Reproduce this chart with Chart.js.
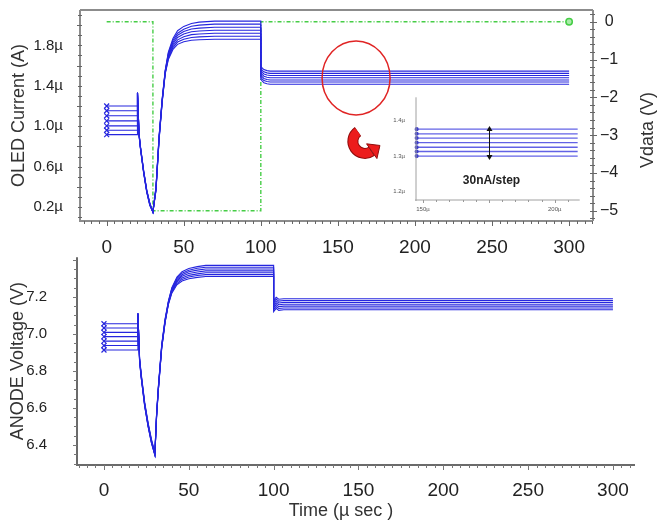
<!DOCTYPE html>
<html><head><meta charset="utf-8">
<script src="https://cdn.jsdelivr.net/npm/chart.js@4.4.1/dist/chart.umd.min.js"></script>
<style>
html,body{margin:0;padding:0;background:#fff;}
#wrap{position:relative;width:657px;height:521px;overflow:hidden;background:#fff;}
canvas{position:absolute;}
</style></head><body>
<div id="wrap">
<canvas id="topChart" width="657" height="262" style="left:0;top:0"></canvas>
<canvas id="insetChart" width="200" height="130" style="left:385px;top:92px"></canvas>
<canvas id="botChart" width="657" height="269" style="left:0;top:252px"></canvas>
</div>
<script>
// ---------------- DATA ----------------
// OLED current (µA) vs time (µs), 7 data steps
const timeCur = [0,20,20,21,22,24,26,28,30,32,34,36,38,40,43,46,50,55,60,70,100,100,101,102,104,106,300];
const cur1 = [1.200,1.200,1.33,0.93,0.79,0.56,0.37,0.24,0.15,0.40,0.90,1.27,1.556,1.732,1.868,1.945,1.988,2.017,2.030,2.040,2.040,1.595,1.575,1.560,1.550,1.545,1.545];
const cur2 = [1.153,1.153,1.33,0.925,0.785,0.555,0.365,0.235,0.15,0.395,0.895,1.265,1.550,1.720,1.850,1.920,1.960,1.990,2.000,2.010,2.010,1.573,1.553,1.538,1.528,1.523,1.523];
const cur3 = [1.103,1.103,1.33,0.92,0.78,0.55,0.36,0.23,0.15,0.39,0.89,1.26,1.544,1.708,1.832,1.900,1.937,1.962,1.971,1.980,1.980,1.552,1.532,1.517,1.507,1.502,1.502];
const cur4 = [1.053,1.053,1.33,0.92,0.78,0.55,0.36,0.23,0.15,0.38,0.88,1.25,1.538,1.696,1.814,1.878,1.912,1.934,1.942,1.950,1.950,1.530,1.510,1.495,1.485,1.480,1.480];
const cur5 = [1.003,1.003,1.33,0.915,0.775,0.545,0.355,0.225,0.15,0.375,0.875,1.245,1.532,1.684,1.796,1.855,1.886,1.906,1.913,1.920,1.920,1.508,1.488,1.473,1.463,1.458,1.458];
const cur6 = [0.960,0.960,1.33,0.91,0.77,0.54,0.35,0.22,0.15,0.37,0.87,1.24,1.526,1.672,1.778,1.833,1.861,1.878,1.884,1.890,1.890,1.487,1.467,1.452,1.442,1.437,1.437];
const cur7 = [0.917,0.917,1.33,0.905,0.765,0.535,0.345,0.215,0.15,0.365,0.865,1.235,1.520,1.660,1.760,1.810,1.835,1.850,1.855,1.860,1.860,1.465,1.445,1.430,1.420,1.415,1.415];
const currentSeries = [cur1,cur2,cur3,cur4,cur5,cur6,cur7];

// Vdata (V)
const timeVdata = [0,30,30,100,100,300];
const vdata = [0,0,-5,-5,0,0];

// ANODE voltage (V)
const timeVolt = [0,20,20,21,22,24,26,28,30,31,32,34,36,38,40,43,46,50,55,60,100,100,101.5,103,106,300];
const volt1 = [7.055,7.055,7.11,6.87,6.78,6.63,6.52,6.43,6.36,6.57,6.71,6.94,7.08,7.178,7.250,7.307,7.336,7.353,7.363,7.370,7.370,7.180,7.198,7.187,7.190,7.190];
const volt2 = [7.032,7.032,7.11,6.865,6.775,6.625,6.515,6.425,6.355,6.565,6.705,6.935,7.075,7.175,7.245,7.300,7.328,7.344,7.354,7.360,7.360,7.170,7.188,7.177,7.180,7.180];
const volt3 = [7.008,7.008,7.11,6.86,6.77,6.62,6.51,6.42,6.35,6.56,6.70,6.93,7.07,7.172,7.240,7.293,7.319,7.335,7.344,7.350,7.350,7.160,7.178,7.167,7.170,7.170];
const volt4 = [6.985,6.985,7.11,6.86,6.77,6.62,6.51,6.42,6.35,6.56,6.70,6.93,7.07,7.169,7.235,7.286,7.311,7.326,7.334,7.340,7.340,7.150,7.168,7.157,7.160,7.160];
const volt5 = [6.961,6.961,7.11,6.855,6.765,6.615,6.505,6.415,6.35,6.555,6.695,6.925,7.065,7.166,7.230,7.279,7.302,7.316,7.324,7.330,7.330,7.140,7.158,7.147,7.150,7.150];
const volt6 = [6.937,6.937,7.11,6.85,6.76,6.61,6.50,6.41,6.345,6.55,6.69,6.92,7.06,7.163,7.225,7.272,7.294,7.307,7.315,7.320,7.320,7.130,7.148,7.137,7.140,7.140];
const volt7 = [6.913,6.913,7.11,6.85,6.76,6.61,6.50,6.41,6.345,6.55,6.69,6.92,7.06,7.160,7.220,7.265,7.285,7.298,7.305,7.310,7.310,7.120,7.138,7.127,7.130,7.130];
const voltageSeries = [volt1,volt2,volt3,volt4,volt5,volt6,volt7];

// Inset (zoom of steady current, 150µs–200µs)
const insetTime = [147.6, 208.7];
const insetLevels = [1.376,1.363,1.351,1.338,1.325,1.313,1.300];

// Ticks
const xTicks = [0,50,100,150,200,250,300];
const xTickLabels = ['0','50','100','150','200','250','300'];
const curTicks = [0.2,0.6,1.0,1.4,1.8];
const curTickLabels = ['0.2\u00b5','0.6\u00b5','1.0\u00b5','1.4\u00b5','1.8\u00b5'];
const vdataTicks = [0,-1,-2,-3,-4,-5];
const vdataTickLabels = ['0','\u22121','\u22122','\u22123','\u22124','\u22125'];
const voltTicks = [6.4,6.6,6.8,7.0,7.2];
const voltTickLabels = ['6.4','6.6','6.8','7.0','7.2'];
const insetYTicks = [1.2,1.3,1.4];
const insetYTickLabels = ['1.2\u00b5','1.3\u00b5','1.4\u00b5'];
const insetXTicks = [150,200];
const insetXTickLabels = ['150\u00b5','200\u00b5'];

// ---------------- HELPERS ----------------
const FONT = "'Liberation Sans', Arial, Helvetica, sans-serif";
const BLUE = 'rgb(38,38,222)';
const GREEN = 'rgb(70,205,70)';
const NOGRID = {display: false, drawTicks: false};
function fixBox(size) {
  return (s) => {
    if (s.isHorizontal()) s.height = size; else s.width = size;
    s.paddingTop = 0; s.paddingBottom = 0; s.paddingLeft = 0; s.paddingRight = 0;
  };
}
function setTicks(values) { return (s) => { s.ticks = values.map(v => ({value: v})); }; }
function labelsFrom(labels) { return (v, i) => labels[i]; }
function pts(xs, ys) { return xs.map((x, i) => ({x: x, y: ys[i]})); }

const minorTicksPlugin = {
  id: 'minorTicks',
  afterDraw(chart, args, opts) {
    const ctx = chart.ctx, ca = chart.chartArea;
    ctx.save();
    ctx.strokeStyle = opts.color || '#777';
    ctx.lineWidth = 1;
    (opts.axes || []).forEach(a => {
      const s = chart.scales[a.id];
      const n = Math.round((a.to - a.from) / a.step);
      for (let i = 0; i <= n; i++) {
        const v = a.from + i * a.step;
        const isMajor = a.major && Math.abs(v / a.major - Math.round(v / a.major)) < 1e-6;
        const len = isMajor ? a.majorLen : a.len;
        ctx.beginPath();
        if (s.isHorizontal()) {
          const x = Math.round(s.getPixelForValue(v)) + 0.5;
          if (x < ca.left - 0.5 || x > ca.right + 0.5) continue;
          ctx.moveTo(x, ca.bottom - (a.inner || 0));
          ctx.lineTo(x, ca.bottom + len);
        } else {
          const y = Math.round(s.getPixelForValue(v)) + 0.5;
          if (y < ca.top - 0.5 || y > ca.bottom + 0.5) continue;
          const left = s.position === 'left';
          const x0 = left ? ca.left : ca.right;
          const sg = left ? -1 : 1;
          ctx.moveTo(x0 - sg * (a.inner || 0), y);
          ctx.lineTo(x0 + sg * len, y);
        }
        ctx.stroke();
      }
    });
    ctx.restore();
  }
};

const framePlugin = {
  id: 'frame',
  afterDraw(chart, args, opts) {
    const ctx = chart.ctx, ca = chart.chartArea;
    ctx.save();
    ctx.strokeStyle = opts.color || '#777';
    ctx.lineWidth = opts.width || 1;
    ctx.beginPath();
    (opts.sides || []).forEach(side => {
      if (side === 'top') { ctx.moveTo(ca.left, ca.top); ctx.lineTo(ca.right, ca.top); }
      if (side === 'bottom') { ctx.moveTo(ca.left - 1, ca.bottom); ctx.lineTo(ca.right, ca.bottom); }
      if (side === 'left') { ctx.moveTo(ca.left, ca.top); ctx.lineTo(ca.left, ca.bottom + 1); }
      if (side === 'right') { ctx.moveTo(ca.right, ca.top); ctx.lineTo(ca.right, ca.bottom); }
    });
    ctx.stroke();
    ctx.restore();
  }
};

const textPlugin = {
  id: 'freeText',
  afterDraw(chart, args, opts) {
    const ctx = chart.ctx;
    (opts.items || []).forEach(t => {
      ctx.save();
      ctx.fillStyle = t.color || '#333';
      ctx.font = t.font;
      ctx.textAlign = 'center';
      ctx.textBaseline = 'middle';
      ctx.translate(t.x, t.y);
      if (t.rotate) ctx.rotate(t.rotate);
      ctx.fillText(t.text, 0, 0);
      ctx.restore();
    });
  }
};

const topDecorPlugin = {
  id: 'topDecor',
  afterDatasetsDraw(chart, args, opts) {
    const ctx = chart.ctx, xs = chart.scales.x, ys = chart.scales.y;
    ctx.save();
    // red circle highlighting the steady-state region
    const cx = xs.getPixelForValue(opts.circle.x), cy = ys.getPixelForValue(opts.circle.y);
    ctx.strokeStyle = '#e02424';
    ctx.lineWidth = 1.5;
    ctx.beginPath();
    ctx.ellipse(cx, cy, opts.circle.rx, opts.circle.ry, 0, 0, Math.PI * 2);
    ctx.stroke();
    // curved red arrow
    const ax = xs.getPixelForValue(opts.arrow.x), ay = ys.getPixelForValue(opts.arrow.y);
    const r = 12, a0 = 235 * Math.PI / 180, a1 = 55 * Math.PI / 180;
    ctx.lineCap = 'butt';
    ctx.strokeStyle = '#8e0c0c'; ctx.lineWidth = 11;
    ctx.beginPath(); ctx.arc(ax, ay, r, a0, a1, true); ctx.stroke();
    ctx.strokeStyle = '#ec1c1c'; ctx.lineWidth = 9;
    ctx.beginPath(); ctx.arc(ax, ay, r, a0 - 0.02, a1 + 0.05, true); ctx.stroke();
    const ex = ax + r * Math.cos(a1), ey = ay + r * Math.sin(a1);
    const dx = Math.sin(a1), dy = -Math.cos(a1);
    const px = -dy, py = dx;
    ctx.beginPath();
    ctx.moveTo(ex + px * 9, ey + py * 9);
    ctx.lineTo(ex + dx * 10, ey + dy * 10);
    ctx.lineTo(ex - px * 9, ey - py * 9);
    ctx.closePath();
    ctx.fillStyle = '#ec1c1c';
    ctx.fill();
    ctx.strokeStyle = '#8e0c0c'; ctx.lineWidth = 1;
    ctx.stroke();
    ctx.restore();
  }
};

const insetDecorPlugin = {
  id: 'insetDecor',
  afterDatasetsDraw(chart, args, opts) {
    const ctx = chart.ctx, xs = chart.scales.x, ys = chart.scales.y;
    const x = Math.round(xs.getPixelForValue(opts.arrow.x)) + 0.5;
    const y1 = ys.getPixelForValue(opts.arrow.y1), y2 = ys.getPixelForValue(opts.arrow.y2);
    ctx.save();
    ctx.strokeStyle = '#111'; ctx.fillStyle = '#111'; ctx.lineWidth = 1;
    ctx.beginPath(); ctx.moveTo(x, y1 + 3); ctx.lineTo(x, y2 - 3); ctx.stroke();
    ctx.beginPath(); ctx.moveTo(x, y1); ctx.lineTo(x - 3, y1 + 5); ctx.lineTo(x + 3, y1 + 5); ctx.closePath(); ctx.fill();
    ctx.beginPath(); ctx.moveTo(x, y2); ctx.lineTo(x - 3, y2 - 5); ctx.lineTo(x + 3, y2 - 5); ctx.closePath(); ctx.fill();
    ctx.font = 'bold 12px ' + FONT;
    ctx.textAlign = 'center'; ctx.textBaseline = 'middle';
    ctx.fillStyle = '#222';
    ctx.fillText(opts.label.text, xs.getPixelForValue(opts.label.x), ys.getPixelForValue(opts.label.y));
    ctx.restore();
  }
};

function blueLine(xs, ys, yAxisID) {
  return {
    data: pts(xs, ys),
    yAxisID: yAxisID,
    borderColor: BLUE,
    borderWidth: 1.1,
    tension: 0,
    pointStyle: 'crossRot',
    pointRadius: (c) => c.dataIndex === 0 ? 3.5 : 0,
    pointBorderColor: BLUE,
    pointBorderWidth: 1.2,
    pointBackgroundColor: BLUE,
    fill: false
  };
}

Chart.defaults.font.family = FONT;
Chart.defaults.color = '#222';

// ---------------- TOP CHART ----------------
const topDatasets = currentSeries.map(s => blueLine(timeCur, s, 'y'));
topDatasets.push({
  data: pts(timeVdata, vdata),
  yAxisID: 'y2',
  borderColor: GREEN,
  borderWidth: 1.4,
  borderDash: [4, 2, 1, 2],
  tension: 0,
  pointStyle: 'circle',
  pointRadius: (c) => c.dataIndex === vdata.length - 1 ? 3.2 : 0,
  pointBorderColor: GREEN,
  pointBackgroundColor: 'rgb(170,235,170)',
  pointBorderWidth: 1.5,
  fill: false
});

new Chart(document.getElementById('topChart'), {
  type: 'line',
  data: {datasets: topDatasets},
  options: {
    responsive: false, animation: false, devicePixelRatio: 1, events: [],
    layout: {padding: {top: 10, left: 0, right: 0, bottom: 0}},
    plugins: {
      legend: {display: false}, tooltip: {enabled: false},
      frame: {sides: ['top', 'bottom', 'left', 'right'], color: '#8c8c8c', width: 2},
      minorTicks: {color: '#666', axes: [
        {id: 'x', from: -15, to: 315, step: 5, major: 50, len: 3, majorLen: 5, inner: 0},
        {id: 'y', from: 0.1, to: 2.1, step: 0.1, major: 0.4, len: 2, majorLen: 3, inner: 2},
        {id: 'y2', from: -5.2, to: 0.2, step: 0.2, major: 1, len: 2, majorLen: 4, inner: 3}
      ]},
      freeText: {items: [
        {text: 'Vdata (V)', x: 648, y: 130, rotate: -Math.PI / 2, font: '18px ' + FONT, color: '#333'}
      ]},
      topDecor: {circle: {x: 161.8, y: 1.478, rx: 34, ry: 37}, arrow: {x: 167.5, y: 0.85}}
    },
    scales: {
      x: {
        type: 'linear', position: 'bottom', min: -17.3, max: 315.5,
        afterBuildTicks: setTicks(xTicks), afterFit: fixBox(41),
        grid: NOGRID, border: {display: false},
        ticks: {autoSkip: false, maxRotation: 0, padding: 15, callback: labelsFrom(xTickLabels), font: {size: 19}, color: '#222'}
      },
      y: {
        type: 'linear', position: 'left', min: 0.062, max: 2.15,
        afterBuildTicks: setTicks(curTicks), afterFit: fixBox(80),
        grid: NOGRID, border: {display: false},
        ticks: {autoSkip: false, padding: 17, callback: labelsFrom(curTickLabels), font: {size: 15}, color: '#222'},
        title: {display: true, text: 'OLED Current (A)', font: {size: 18}, color: '#333', padding: {top: 8, bottom: 0}}
      },
      y2: {
        type: 'linear', position: 'right', min: -5.27, max: 0.31,
        afterBuildTicks: setTicks(vdataTicks), afterFit: fixBox(64),
        grid: NOGRID, border: {display: false},
        ticks: {autoSkip: false, padding: 7, crossAlign: 'center', callback: labelsFrom(vdataTickLabels), font: {size: 16}, color: '#222'}
      }
    }
  },
  plugins: [framePlugin, minorTicksPlugin, textPlugin, topDecorPlugin]
});

// ---------------- INSET ----------------
const insetDatasets = insetLevels.map(v => ({
  data: pts(insetTime, [v, v]),
  borderColor: 'rgba(70,70,225,0.85)',
  borderWidth: 1.3,
  tension: 0,
  pointRadius: (c) => c.dataIndex === 0 ? 1.4 : 0,
  pointBackgroundColor: 'rgb(60,60,200)',
  pointBorderColor: 'rgb(60,60,200)',
  clip: false,
  fill: false
}));
new Chart(document.getElementById('insetChart'), {
  type: 'line',
  data: {datasets: insetDatasets},
  options: {
    responsive: false, animation: false, devicePixelRatio: 1, events: [],
    layout: {padding: {top: 5, left: 0, right: 5, bottom: 0}},
    plugins: {
      legend: {display: false}, tooltip: {enabled: false},
      frame: {sides: ['bottom', 'left'], color: '#a0a0a0', width: 1},
      minorTicks: {color: '#999', axes: [
        {id: 'x', from: 150, to: 205, step: 5, major: 25, len: 2, majorLen: 3, inner: 0}
      ]},
      insetDecor: {arrow: {x: 175, y1: 1.385, y2: 1.289}, label: {text: '30nA/step', x: 176, y: 1.23}}
    },
    scales: {
      x: {
        type: 'linear', min: 147.35, max: 209.47,
        afterBuildTicks: setTicks(insetXTicks), afterFit: fixBox(22),
        grid: NOGRID, border: {display: false},
        ticks: {autoSkip: false, maxRotation: 0, padding: 6, callback: labelsFrom(insetXTickLabels), font: {size: 6}, color: '#555'}
      },
      y: {
        type: 'linear', min: 1.176, max: 1.466,
        afterBuildTicks: setTicks(insetYTicks), afterFit: fixBox(31),
        grid: NOGRID, border: {display: false},
        ticks: {autoSkip: false, padding: 11, callback: labelsFrom(insetYTickLabels), font: {size: 6}, color: '#555'}
      }
    }
  },
  plugins: [framePlugin, minorTicksPlugin, insetDecorPlugin]
});

// ---------------- BOTTOM CHART ----------------
new Chart(document.getElementById('botChart'), {
  type: 'line',
  data: {datasets: voltageSeries.map(s => blueLine(timeVolt, s, 'y'))},
  options: {
    responsive: false, animation: false, devicePixelRatio: 1, events: [],
    layout: {padding: {top: 5, left: 0, right: 22, bottom: 0}},
    plugins: {
      legend: {display: false}, tooltip: {enabled: false},
      frame: {sides: ['bottom', 'left'], color: '#6a6a6a', width: 2},
      minorTicks: {color: '#777', axes: [
        {id: 'x', from: -15, to: 310, step: 5, major: 50, len: 3, majorLen: 5, inner: 0},
        {id: 'y', from: 6.3, to: 7.4, step: 0.05, major: 0.2, len: 3, majorLen: 4, inner: 0}
      ]},
      freeText: {items: [
        {text: 'Time (\u00b5 sec )', x: 341, y: 259, font: '18px ' + FONT, color: '#333'}
      ]}
    },
    scales: {
      x: {
        type: 'linear', position: 'bottom', min: -15.9, max: 313,
        afterBuildTicks: setTicks(xTicks), afterFit: fixBox(56),
        grid: NOGRID, border: {display: false},
        ticks: {autoSkip: false, maxRotation: 0, padding: 14, callback: labelsFrom(xTickLabels), font: {size: 19}, color: '#222'}
      },
      y: {
        type: 'linear', position: 'left', min: 6.292, max: 7.414,
        afterBuildTicks: setTicks(voltTicks), afterFit: fixBox(77),
        grid: NOGRID, border: {display: false},
        ticks: {autoSkip: false, padding: 30, callback: labelsFrom(voltTickLabels), font: {size: 15}, color: '#222'},
        title: {display: true, text: 'ANODE Voltage (V)', font: {size: 18}, color: '#333', padding: {top: 7, bottom: 0}}
      }
    }
  },
  plugins: [framePlugin, minorTicksPlugin, textPlugin]
});
</script>
</body></html>
